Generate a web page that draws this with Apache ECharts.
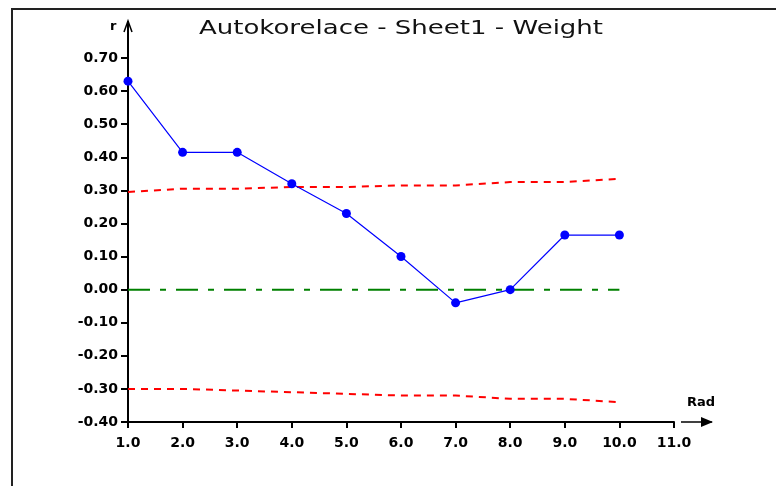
<!DOCTYPE html>
<html>
<head>
<meta charset="utf-8">
<script src="https://cdn.jsdelivr.net/npm/echarts@6/dist/echarts.min.js"></script>
<style>html,body{margin:0;padding:0;background:#fff;}#c{width:776px;height:486px;}</style>
</head>
<body>
<div id="c"></div>
<script>
var lags = [1, 2, 3, 4, 5, 6, 7, 8, 9, 10];
var acf = [0.63, 0.415, 0.415, 0.32, 0.23, 0.10, -0.04, 0.00, 0.165, 0.165];
var upperBound = [0.295, 0.305, 0.305, 0.31, 0.31, 0.315, 0.315, 0.325, 0.325, 0.335];
var lowerBound = [-0.30, -0.30, -0.305, -0.31, -0.315, -0.32, -0.32, -0.33, -0.33, -0.34];
var zeroLine = [0, 0, 0, 0, 0, 0, 0, 0, 0, 0];
var titleText = 'Autokorelace - Sheet1 - Weight';

function pairs(ys) { return lags.map(function (x, i) { return [x, ys[i]]; }); }

var chart = echarts.init(document.getElementById('c'));
var font = 'DejaVu Sans';
chart.setOption({
  animation: false,
  backgroundColor: '#fff',
  grid: { left: 128, right: 102, top: 58, bottom: 64 },
  xAxis: {
    type: 'value', min: 1, max: 11, interval: 1,
    axisLine: { show: true, onZero: false, lineStyle: { color: '#000', width: 2 } },
    axisTick: { show: true, length: 6, lineStyle: { color: '#000', width: 2 } },
    axisLabel: { margin: 14, fontFamily: font, fontSize: 14, fontWeight: 'bold', color: '#000', formatter: function (v) { return v.toFixed(1); } },
    splitLine: { show: false }
  },
  yAxis: {
    type: 'value', min: -0.4, max: 0.7, interval: 0.1,
    axisLine: { show: true, onZero: false, lineStyle: { color: '#000', width: 2 } },
    axisTick: { show: true, length: 7, lineStyle: { color: '#000', width: 2 } },
    axisLabel: { margin: 10, fontFamily: font, fontSize: 14, fontWeight: 'bold', color: '#000', formatter: function (v) { return v.toFixed(2); } },
    splitLine: { show: false }
  },
  series: [
    { type: 'line', data: pairs(upperBound), symbol: 'none', lineStyle: { color: '#ff0000', width: 2, type: [7, 6] } },
    { type: 'line', data: pairs(lowerBound), symbol: 'none', lineStyle: { color: '#ff0000', width: 2, type: [7, 6] } },
    { type: 'line', data: pairs(zeroLine), symbol: 'none', lineStyle: { color: '#008000', width: 2, type: [22, 10, 6, 10] } },
    { type: 'line', data: pairs(acf), symbol: 'circle', symbolSize: 9, itemStyle: { color: '#0000ff' }, lineStyle: { color: '#0000ff', width: 1.2 } }
  ],
  graphic: [
    { type: 'rect', shape: { x: 12, y: 9, width: 800, height: 520 }, style: { fill: null, stroke: '#222', lineWidth: 2 }, silent: true },
    { type: 'text', x: 401, y: 29, scaleX: 1.3, style: { text: titleText, fontFamily: font, fontSize: 20, fill: '#111', textAlign: 'center', textVerticalAlign: 'middle' } },
    { type: 'line', shape: { x1: 128, y1: 58, x2: 128, y2: 21 }, style: { stroke: '#000', lineWidth: 2 } },
    { type: 'polyline', shape: { points: [[124, 32], [128, 21], [132, 32]] }, style: { stroke: '#000', lineWidth: 1.5, fill: null } },
    { type: 'text', left: 110, top: 20, style: { text: 'r', fontFamily: font, fontSize: 13, fontWeight: 'bold', fill: '#000' } },
    { type: 'line', shape: { x1: 681, y1: 422, x2: 712, y2: 422 }, style: { stroke: '#000', lineWidth: 1.5 } },
    { type: 'polygon', shape: { points: [[701, 417], [713, 422], [701, 427]] }, style: { fill: '#000' } },
    { type: 'text', left: 687, top: 396, style: { text: 'Rad', fontFamily: font, fontSize: 13, fontWeight: 'bold', fill: '#000' } }
  ]
});
</script>
</body>
</html>
